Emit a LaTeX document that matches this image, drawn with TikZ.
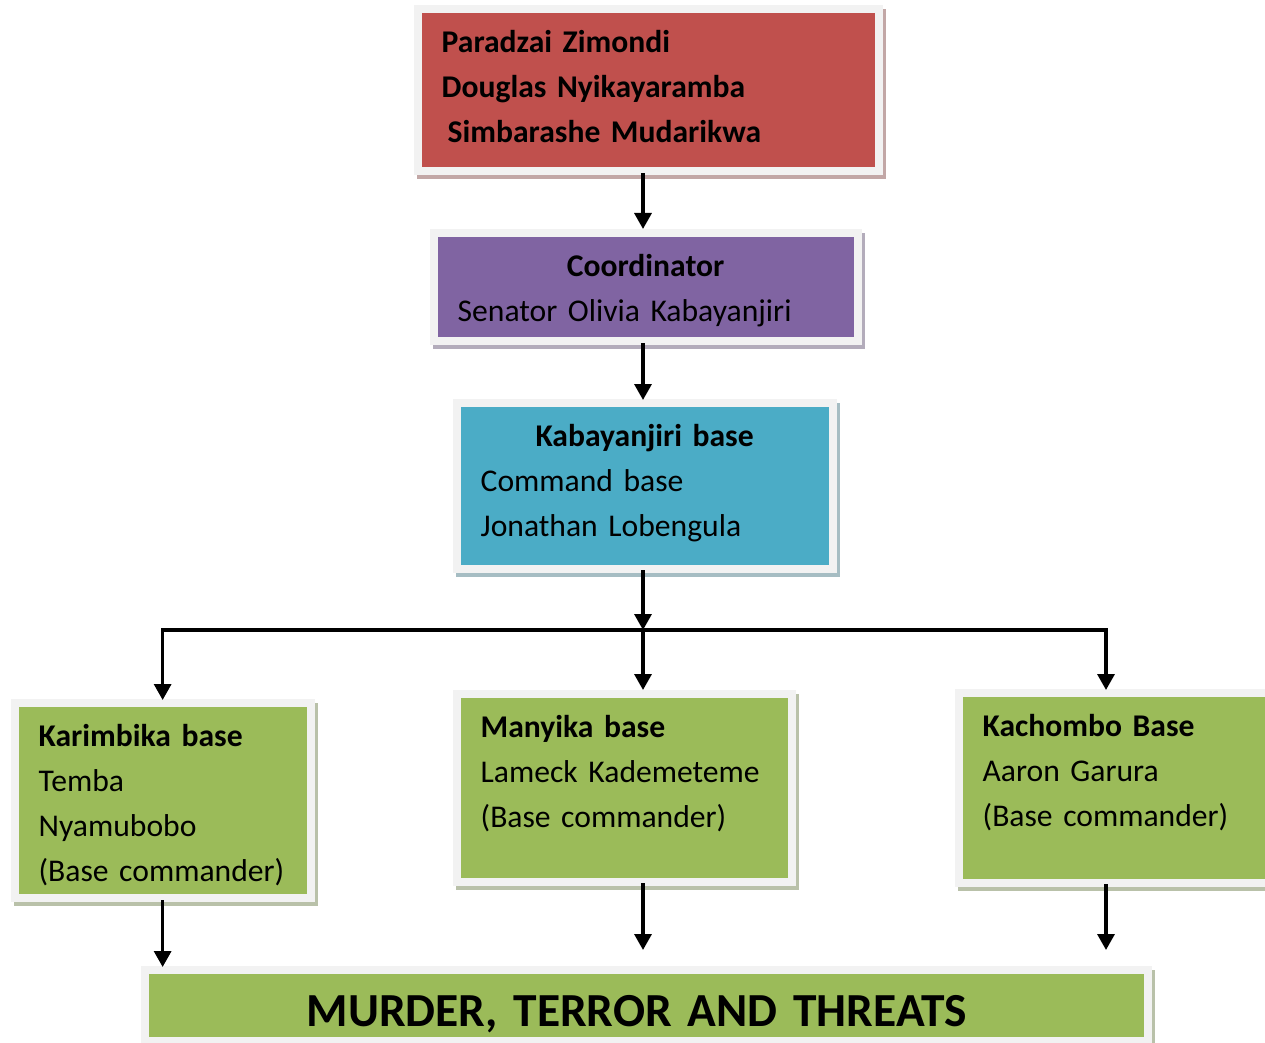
\documentclass[tikz,border=0pt]{standalone}
\usepackage{fontspec}
\setmainfont{Carlito}
\usetikzlibrary{arrows.meta}

\definecolor{boxred}{HTML}{C0504D}
\definecolor{boxpurple}{HTML}{8064A2}
\definecolor{boxblue}{HTML}{4BACC6}
\definecolor{boxgreen}{HTML}{9BBB59}
\definecolor{framegray}{HTML}{F2F2F2}

\begin{document}
\begin{tikzpicture}[x=0.02cm, y=-0.02cm, >={Triangle[width=0.34cm,length=0.32cm]}, line width=1.9pt,
  box/.style={rectangle, anchor=north west, fill=#1, inner xsep=0.4cm, inner ysep=0pt,
    text height=0.8cm, align=left, font=\fontsize{18}{25.5}\selectfont,
    preaction={draw=#1!40!gray!60!white, line width=0.32cm, transform canvas={shift={(0.06cm,-0.08cm)}}},
    preaction={draw=framegray, line width=0.32cm}}]
  \path[use as bounding box, clip] (0,0) rectangle (1265,1043);

  % Nodes
  \node[box=boxred, text width=8.26cm, text depth=2.28cm] (leaders) at (420,11)
    {\bfseries Paradzai Zimondi\\ Douglas Nyikayaramba\\ \hspace*{0.12cm}Simbarashe Mudarikwa};
  \node[box=boxpurple, text width=7.52cm, text depth=1.2cm] (coord) at (436,235)
    {\hfill\textbf{Coordinator}\hfill\null\\ Senator Olivia Kabayanjiri};
  \node[box=boxblue, text width=6.56cm, text depth=2.36cm] (base) at (459,405)
    {\hfill\textbf{Kabayanjiri base}\hfill\null\\ Command base\\ Jonathan Lobengula};
  \node[box=boxgreen, text width=4.96cm, text depth=2.94cm] (kari) at (17,705)
    {\textbf{Karimbika base}\\ Temba\\ Nyamubobo\\ (Base commander)};
  \node[box=boxgreen, text width=5.74cm, text depth=2.8cm] (many) at (459,696)
    {\textbf{Manyika base}\\ Lameck Kademeteme\\ (Base commander)};
  \node[box=boxgreen, text width=5.74cm, text depth=2.84cm] (kacho) at (961,695)
    {\textbf{Kachombo Base}\\ Aaron Garura\\ (Base commander)};
  \node[box=boxgreen, inner xsep=3.16cm, text width=13.6cm, text height=1.06cm, text depth=0.2cm,
    font=\fontsize{27}{32}\selectfont\bfseries] (threat) at (147,972)
    {MURDER, TERROR AND THREATS};

  \coordinate (split) at (643,630);
  \coordinate (rightturn) at (1106,630);
  \coordinate (manyend) at (643,950);
  \coordinate (kachend) at (1106,950);

  % Arrows
  \draw[->, shorten <=0.1cm, shorten >=0.12cm] (split |- leaders.south) -- (split |- coord.north);
  \draw[->, shorten <=0.1cm, shorten >=0.1cm] (split |- coord.south) -- (split |- base.north);
  \draw[->, shorten <=0.08cm] (split |- base.south) -- (split);
  \draw[->, shorten >=0.1cm] (split) -| (kari.north);
  \draw[->, shorten >=0.12cm] (split) -- (split |- many.north);
  \draw[->, shorten >=0.1cm] (split) -- (rightturn) -- (rightturn |- kacho.north);
  \draw[->, shorten <=0.1cm, shorten >=0.1cm] (kari.south) -- (kari.south |- threat.north);
  \draw[->, shorten <=0.08cm] (manyend |- many.south) -- (manyend);
  \draw[->, shorten <=0.08cm] (kachend |- kacho.south) -- (kachend);
\end{tikzpicture}
\end{document}
